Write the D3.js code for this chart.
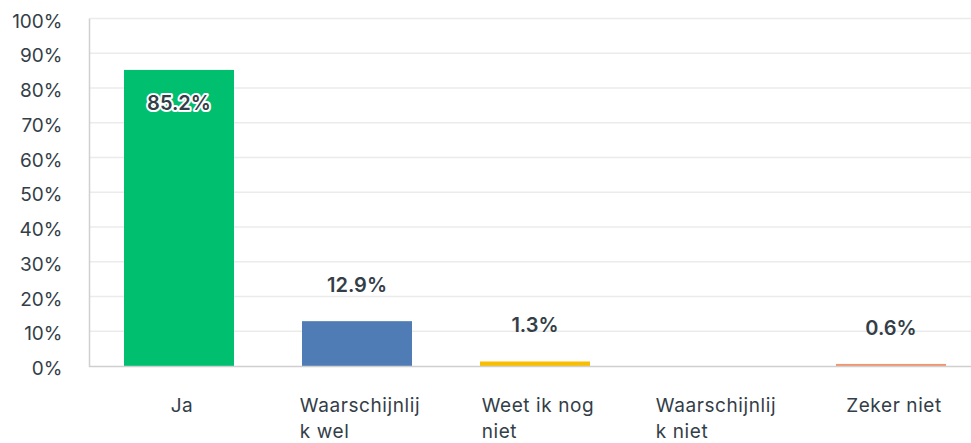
<!DOCTYPE html>
<html>
<head>
<meta charset="utf-8">
<script src="https://d3js.org/d3.v7.min.js"></script>
<style>
  body { margin: 0; background: #fff; }
  svg text { font-family: "Inter", "Noto Sans", sans-serif; fill: #333e48; }
</style>
</head>
<body>
<div id="chart"></div>
<script>
// answers and share of respondents (%)
var categories = ["Ja", "Waarschijnlijk wel", "Weet ik nog niet", "Waarschijnlijk niet", "Zeker niet"];
var catLines = [["Ja"], ["Waarschijnlij", "k wel"], ["Weet ik nog", "niet"], ["Waarschijnlij", "k niet"], ["Zeker niet"]];
var values = [85.2, 12.9, 1.3, 0, 0.6];
var colors = ["#00bf6f", "#507cb6", "#f9be00", "#6bc8cd", "#f2956f"];
var yTicks = [0, 10, 20, 30, 40, 50, 60, 70, 80, 90, 100];

var w = 971, h = 443;
var plotLeft = 90, plotTop = 18.5, plotBottom = 366;

var svg = d3.select("#chart").append("svg")
  .attr("width", w)
  .attr("height", h);

var x = d3.scaleBand()
  .domain(categories)
  .range([plotLeft, plotLeft + 5 * 178])
  .paddingInner(0.382)
  .paddingOuter(0.191);

var y = d3.scaleLinear()
  .domain([0, 100])
  .range([plotBottom, plotTop]);

// grid
svg.append("g").selectAll("line")
  .data(yTicks.filter(function(d) { return d > 0; }))
  .enter().append("line")
  .attr("x1", plotLeft).attr("x2", w)
  .attr("y1", function(d) { return y(d); })
  .attr("y2", function(d) { return y(d); })
  .attr("stroke", "#ebebeb")
  .attr("stroke-width", 1.5);

// y labels
svg.append("g").selectAll("text")
  .data(yTicks)
  .enter().append("text")
  .attr("x", 62.5)
  .attr("y", function(d) { return y(d) + 9; })
  .attr("text-anchor", "end")
  .attr("font-size", "19px")
  .text(function(d) { return d + "%"; });

// bars
svg.append("g").selectAll("rect")
  .data(values)
  .enter().append("rect")
  .attr("x", function(d, i) { return x(categories[i]); })
  .attr("width", x.bandwidth())
  .attr("y", function(d) { return y(d); })
  .attr("height", function(d) { return plotBottom - y(d); })
  .attr("fill", function(d, i) { return colors[i]; });

// axes lines
svg.append("line")
  .attr("x1", plotLeft - 0.5).attr("x2", plotLeft - 0.5)
  .attr("y1", plotTop).attr("y2", plotBottom + 1)
  .attr("stroke", "#d0d0d0").attr("stroke-width", 1.5);
svg.append("line")
  .attr("x1", plotLeft - 1).attr("x2", w)
  .attr("y1", plotBottom + 0.5).attr("y2", plotBottom + 0.5)
  .attr("stroke", "#cfcfcf").attr("stroke-width", 1.5);

// value labels
svg.append("g").selectAll("text")
  .data(values.map(function(v, i) { return { v: v, c: categories[i] }; }).filter(function(d) { return d.v > 0; }))
  .enter().append("text")
  .attr("x", function(d) { return x(d.c) + x.bandwidth() / 2; })
  .attr("y", function(d) { return d.v > 50 ? y(d.v) + 40 : y(d.v) - 29; })
  .attr("text-anchor", "middle")
  .attr("font-size", "20px")
  .attr("font-weight", 600)
  .attr("stroke", function(d) { return d.v > 50 ? "#fff" : "none"; })
  .attr("stroke-width", 4)
  .attr("stroke-linejoin", "round")
  .attr("paint-order", "stroke")
  .text(function(d) { return d.v.toFixed(1) + "%"; });

// category labels, wrapped
var cat = svg.append("g").selectAll("text")
  .data(catLines)
  .enter().append("text")
  .attr("font-size", "19px")
  .attr("letter-spacing", "0.6px")
  .attr("y", 412);

cat.selectAll("tspan")
  .data(function(d) { return d; })
  .enter().append("tspan")
  .attr("dy", function(d, i) { return i === 0 ? 0 : 26; })
  .text(function(d) { return d; });

cat.each(function(d, i) {
  var node = d3.select(this);
  var maxW = 0;
  node.selectAll("tspan").each(function() {
    maxW = Math.max(maxW, this.getComputedTextLength());
  });
  var cx = x(categories[i]) + x.bandwidth() / 2 + 3;
  node.selectAll("tspan").attr("x", cx - maxW / 2);
});
</script>
</body>
</html>
